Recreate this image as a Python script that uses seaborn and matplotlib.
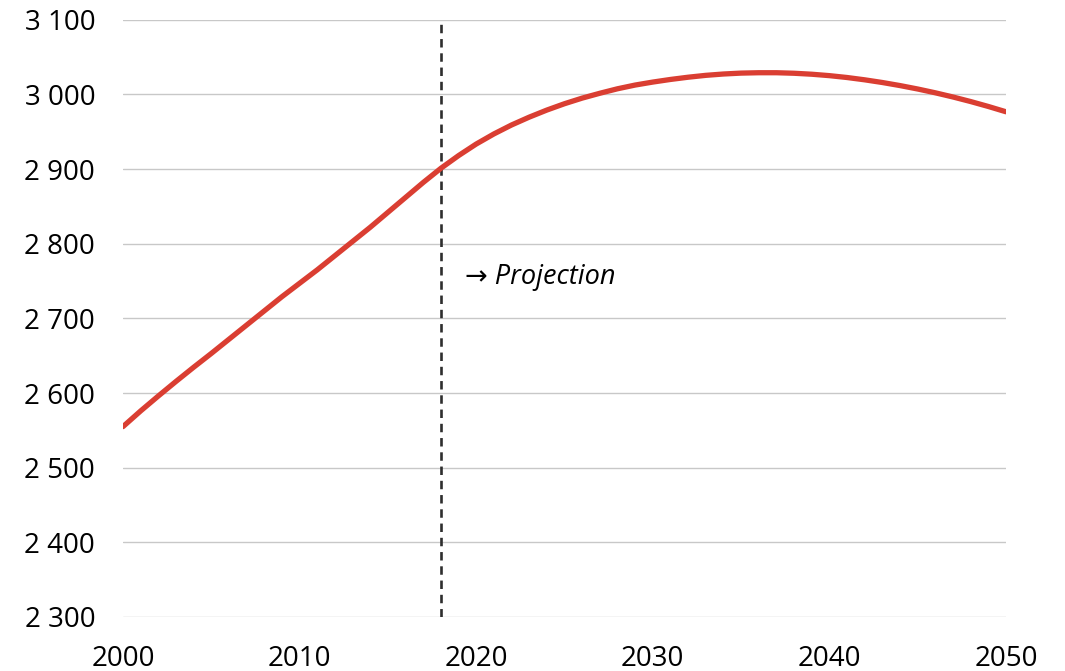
import matplotlib
matplotlib.use("Agg")
import matplotlib.pyplot as plt
import matplotlib.ticker as mticker
import seaborn as sns
import pandas as pd

years = list(range(2000, 2051))
values = [2555, 2576, 2596, 2615.5, 2634.5, 2653, 2672, 2691, 2710, 2729,
          2747, 2765, 2784, 2803, 2822, 2842, 2862, 2882, 2901, 2918,
          2933.5, 2947, 2959, 2969.5, 2979, 2987.5, 2995, 3001.5, 3007.5, 3012.5,
          3016.5, 3020, 3023, 3025.5, 3027.3, 3028.5, 3029, 3029, 3028.3, 3027.0,
          3025.1, 3022.6, 3019.5, 3015.9, 3011.8, 3007.2, 3002.1, 2996.5, 2990.4, 2983.8,
          2976.7]
projection_start = 2018
annotation = "\u2192 Projection"
y_ticks = list(range(2300, 3101, 100))
x_ticks = [2000, 2010, 2020, 2030, 2040, 2050]

df = pd.DataFrame({"year": years, "value": values})

sns.set_theme(style="white")
plt.rcParams["font.family"] = ["Open Sans", "DejaVu Sans"]

fig = plt.figure(figsize=(10.65, 6.71), dpi=100)
ax = fig.add_axes([0.1155, 0.0805, 0.9446 - 0.1155, 0.9706 - 0.0805])

for y in y_ticks:
    ax.axhline(y, color="#C8C8C8", lw=1.0, zorder=0)

ax.axvline(projection_start, color="#2E2E2E", lw=1.9, ls=(0, (3.2, 2.2)), zorder=1)

sns.lineplot(data=df, x="year", y="value", ax=ax, color="#DA3E32", lw=3.8,
             zorder=3, solid_capstyle="round")

ax.set_xlim(2000, 2050)
ax.set_ylim(2300, 3100)
ax.set_xticks(x_ticks)
ax.set_yticks(y_ticks)
ax.yaxis.set_major_formatter(mticker.FuncFormatter(lambda v, p: f"{int(v):,}".replace(",", " ")))
ax.tick_params(axis="both", length=0, labelsize=20, colors="black")
ax.tick_params(axis="y", pad=20)
ax.tick_params(axis="x", pad=20)
ax.set_xlabel("")
ax.set_ylabel("")
for s in ax.spines.values():
    s.set_visible(False)
ax.grid(False)

ax.text(2019.35, 2755, annotation, fontsize=19.5, style="italic", va="center", ha="left",
        color="black")

fig.savefig("out.png", dpi=100)
